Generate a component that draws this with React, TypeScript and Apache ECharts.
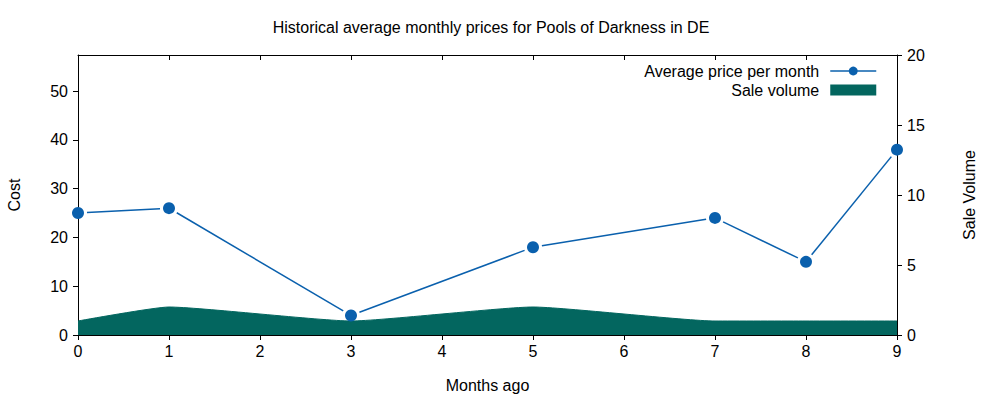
import React, { useEffect, useRef } from "react";
import * as echarts from "echarts";

const months = [0, 1, 3, 5, 7, 8, 9];
const avgPrice = [25, 26, 4, 18, 24, 15, 38];
const saleVolume = [1, 2, 1, 2, 1, 1, 1];
const costTicks = [0, 10, 20, 30, 40, 50];

const FONT = "Liberation Sans, Arial, sans-serif";
const BLUE = "#0a60ad";
const TEAL = "#03665f";

export default function App() {
  const ref = useRef<HTMLDivElement>(null);
  useEffect(() => {
    if (!ref.current) return;
    const chart = echarts.init(ref.current, undefined, { renderer: "svg" });
    const priceData = months.map((m, i) => [m, avgPrice[i]]);
    const volData = months.map((m, i) => [m, saleVolume[i]]);
    const segData = months.slice(0, -1).map((m, i) => [m, avgPrice[i], months[i + 1], avgPrice[i + 1]]);
    const GAP = 9;
    chart.setOption({
      animation: false,
      backgroundColor: "#ffffff",
      textStyle: { fontFamily: FONT },
      title: {
        text: "Historical average monthly prices for Pools of Darkness in DE",
        left: 486,
        textAlign: "center",
        top: 14,
        textStyle: { fontFamily: FONT, fontSize: 16, fontWeight: "normal", color: "#000" },
      },
      grid: { left: 78, right: 103, top: 55, bottom: 65, show: false, outerBoundsMode: "none", containLabel: false },
      legend: {
        orient: "vertical",
        right: 118,
        top: 58,
        align: "right",
        itemWidth: 46,
        itemHeight: 11,
        itemGap: 3,
        textStyle: { fontFamily: FONT, fontSize: 16, color: "#000", padding: [0, 6, 0, 0] },
        data: [
          { name: "Average price per month", lineStyle: { color: BLUE, width: 1.5, opacity: 1 } },
          { name: "Sale volume", icon: "rect" },
        ],
      },
      xAxis: [
        {
          type: "value",
          min: 0,
          max: 9,
          interval: 1,
          name: "Months ago",
          nameLocation: "middle",
          nameGap: 42,
          nameTextStyle: { fontFamily: FONT, fontSize: 16, color: "#000" },
          axisLine: { show: true, onZero: false, lineStyle: { color: "#000", width: 1 } },
          axisTick: { show: true, inside: false, length: 5, lineStyle: { color: "#000" } },
          axisLabel: { fontFamily: FONT, fontSize: 16, color: "#000", margin: 8 },
          splitLine: { show: false },
        },
        {
          type: "value",
          position: "top",
          min: 0,
          max: 9,
          interval: 1,
          axisLine: { show: true, onZero: false, lineStyle: { color: "#000", width: 1 } },
          axisTick: { show: true, inside: true, length: 5, lineStyle: { color: "#000" } },
          axisLabel: { show: false },
          splitLine: { show: false },
        },
      ],
      yAxis: [
        {
          type: "value",
          min: 0,
          max: 57.4,
          name: "Cost",
          nameLocation: "middle",
          nameGap: 56,
          nameRotate: 90,
          nameTextStyle: { fontFamily: FONT, fontSize: 16, color: "#000" },
          axisLine: { show: true, onZero: false, lineStyle: { color: "#000", width: 1 } },
          axisTick: { show: true, length: 5, customValues: costTicks, lineStyle: { color: "#000" } },
          axisLabel: { fontFamily: FONT, fontSize: 16, color: "#000", customValues: costTicks, margin: 10 },
          splitLine: { show: false },
        },
        {
          type: "value",
          min: 0,
          max: 20,
          interval: 5,
          position: "right",
          name: "Sale Volume",
          nameLocation: "middle",
          nameGap: 64,
          nameRotate: 90,
          nameTextStyle: { fontFamily: FONT, fontSize: 16, color: "#000" },
          axisLine: { show: true, onZero: false, lineStyle: { color: "#000", width: 1 } },
          axisTick: { show: true, length: 5, lineStyle: { color: "#000" } },
          axisLabel: { fontFamily: FONT, fontSize: 16, color: "#000", margin: 10 },
          splitLine: { show: false },
        },
      ],
      series: [
        {
          name: "Sale volume",
          type: "line",
          yAxisIndex: 1,
          data: volData,
          smooth: 0.15,
          showSymbol: false,
          symbol: "none",
          itemStyle: { color: TEAL },
          lineStyle: { color: TEAL, width: 1 },
          areaStyle: { color: TEAL, opacity: 1 },
          z: 1,
        },
        {
          name: "price segments",
          type: "custom",
          xAxisIndex: 0,
          yAxisIndex: 0,
          data: segData,
          encode: { x: [0, 2], y: [1, 3] },
          renderItem: (params: any, api: any) => {
            const p0 = api.coord([api.value(0), api.value(1)]);
            const p1 = api.coord([api.value(2), api.value(3)]);
            const dx = p1[0] - p0[0];
            const dy = p1[1] - p0[1];
            const len = Math.sqrt(dx * dx + dy * dy);
            if (len <= 2 * GAP) return null;
            const ux = dx / len;
            const uy = dy / len;
            return {
              type: "line",
              shape: {
                x1: p0[0] + ux * GAP,
                y1: p0[1] + uy * GAP,
                x2: p1[0] - ux * GAP,
                y2: p1[1] - uy * GAP,
              },
              style: { stroke: BLUE, lineWidth: 1.5 },
            };
          },
          z: 2,
        },
        {
          name: "Average price per month",
          type: "line",
          yAxisIndex: 0,
          data: priceData,
          symbol: "circle",
          symbolSize: 12,
          itemStyle: { color: BLUE },
          lineStyle: { color: BLUE, width: 1.5, opacity: 0 },
          z: 3,
        },
      ],
    });
    return () => chart.dispose();
  }, []);
  return (
    <div
      ref={ref}
      style={{ position: "fixed", left: 0, top: 0, width: 1000, height: 400 }}
    />
  );
}
